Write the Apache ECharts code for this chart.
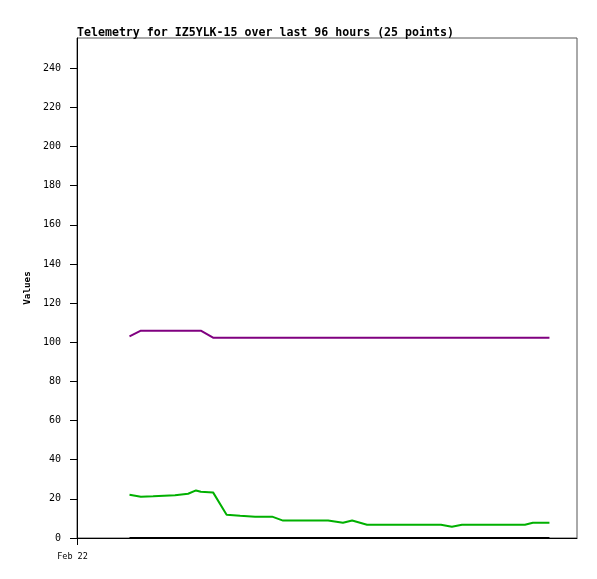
<!DOCTYPE html>
<html>
<head>
<meta charset="utf-8">
<script src="https://cdn.jsdelivr.net/npm/echarts@6/dist/echarts.min.js"></script>
<style>
html,body{margin:0;padding:0;background:#fff;}
#c{width:597px;height:579px;}
</style>
</head>
<body>
<div id="c"></div>
<script>
// hours since Feb 22 00:00
const hours = [12.0, 14.6, 17.4, 22.4, 25.4, 27.2, 28.3, 31.1, 34.2, 37.3, 40.7, 44.6, 47.1, 52.1, 57.4, 60.8, 62.9, 66.3, 73.8, 83.2, 85.7, 88.0, 102.4, 104.2, 108.0];
const greenValues = [22.1, 21.1, 21.3, 21.8, 22.6, 24.3, 23.6, 23.3, 11.9, 11.4, 10.9, 10.9, 8.9, 8.9, 8.9, 7.8, 8.9, 6.8, 6.8, 6.8, 5.8, 6.8, 6.8, 7.8, 7.8];
const purpleValues = [103.0, 105.9, 105.9, 105.9, 105.9, 105.9, 105.9, 102.3, 102.3, 102.3, 102.3, 102.3, 102.3, 102.3, 102.3, 102.3, 102.3, 102.3, 102.3, 102.3, 102.3, 102.3, 102.3, 102.3, 102.3];
const blackValues = [0, 0, 0, 0, 0, 0, 0, 0, 0, 0, 0, 0, 0, 0, 0, 0, 0, 0, 0, 0, 0, 0, 0, 0, 0];
const yTicks = [0, 20, 40, 60, 80, 100, 120, 140, 160, 180, 200, 220, 240];
const xTicks = [0];
const xTickLabels = ['Feb 22'];
const titleText = 'Telemetry for IZ5YLK-15 over last 96 hours (25 points)';

const pair = (vals) => hours.map((h, i) => [h, vals[i]]);
const mono = 'DejaVu Sans Mono';

const chart = echarts.init(document.getElementById('c'), null, {renderer: 'canvas'});
chart.setOption({
  animation: false,
  backgroundColor: '#ffffff',
  title: {
    text: titleText,
    left: 72,
    top: 22,
    textStyle: {fontFamily: mono, fontWeight: 'bold', fontSize: 11.6, color: '#000'}
  },
  grid: {
    left: 77, top: 38, right: 20, bottom: 41,
    show: true, borderColor: '#555', borderWidth: 1, backgroundColor: 'transparent'
  },
  xAxis: {
    type: 'value',
    min: 0,
    max: 114.3,
    splitLine: {show: false},
    axisLine: {show: true, onZero: false, lineStyle: {color: '#000', width: 1}},
    axisTick: {show: true, length: 7, customValues: xTicks, lineStyle: {color: '#000'}},
    axisLabel: {
      show: true,
      customValues: xTicks,
      margin: 14,
      padding: [0, 9, 0, 0],
      fontFamily: mono, fontSize: 8.5, color: '#000',
      formatter: (v) => { const i = xTicks.indexOf(v); return i >= 0 ? xTickLabels[i] : ''; }
    }
  },
  yAxis: {
    type: 'value',
    min: 0,
    max: 255.4,
    name: 'Values',
    nameLocation: 'middle',
    nameGap: 38,
    nameRotate: 90,
    nameTextStyle: {fontFamily: mono, fontWeight: 'bold', fontSize: 9.3, color: '#000'},
    splitLine: {show: false},
    axisLine: {show: true, lineStyle: {color: '#000', width: 1}},
    axisTick: {show: true, length: 7, customValues: yTicks, lineStyle: {color: '#000'}},
    axisLabel: {
      show: true,
      customValues: yTicks,
      margin: 16,
      fontFamily: mono, fontSize: 10, color: '#000'
    }
  },
  series: [
    {type: 'line', data: pair(purpleValues), showSymbol: false, lineStyle: {color: '#800080', width: 2}, itemStyle: {color: '#800080'}},
    {type: 'line', data: pair(greenValues), showSymbol: false, lineStyle: {color: '#00b000', width: 2}, itemStyle: {color: '#00b000'}},
    {type: 'line', data: pair(blackValues), showSymbol: false, lineStyle: {color: '#000000', width: 2}, itemStyle: {color: '#000'}}
  ]
});
</script>
</body>
</html>
